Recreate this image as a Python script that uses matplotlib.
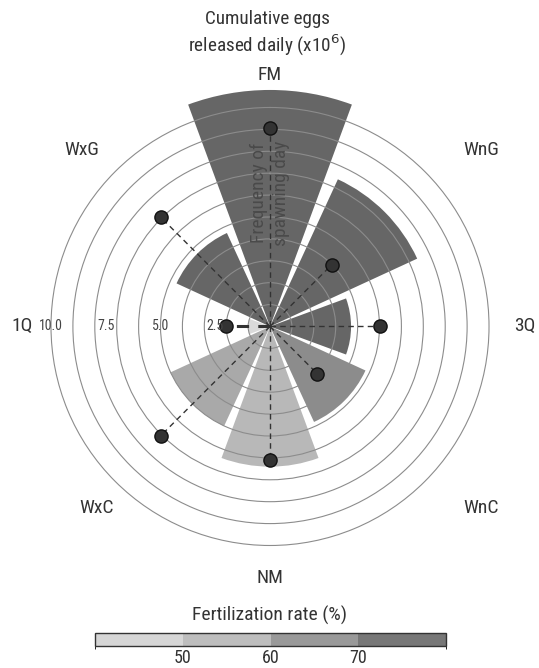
import numpy as np
import matplotlib
matplotlib.use('Agg')
import matplotlib.pyplot as plt
from matplotlib.colors import LinearSegmentedColormap, ListedColormap, BoundaryNorm, Normalize
from matplotlib.cm import ScalarMappable

plt.rcParams['font.family'] = ['Roboto Condensed', 'Liberation Sans Narrow', 'Roboto', 'DejaVu Sans']

# data
sites = ['FM', 'WnG', '3Q', 'WnC', 'NM', 'WxC', '1Q', 'WxG']
eggs = [10.8, 7.4, 3.7, 4.8, 6.4, 5.0, 1.0, 4.7]            # cumulative eggs released daily (x10^6)
spawn_freq = [9.05, 4.0, 5.0, 3.05, 6.1, 7.05, 2.0, 7.05]   # frequency of spawning day
fert_rate = [75.5, 75.5, 75.5, 65.4, 53.8, 57.7, 44.8, 75.5]
r_labels = [2.5, 5.0, 7.5, 10.0]
cbar_bounds = [40, 50, 60, 70, 80]
cbar_ticks = [50, 60, 70]

# styles / layout
wedge_cmap = LinearSegmentedColormap.from_list('greys', ['#ececec', '#555555'])
wedge_norm = Normalize(40, 80)
cbar_colors = ['#d6d6d6', '#bdbdbd', '#999999', '#777777']
line_widths = [1.0, 1.0, 1.0, 1.0, 1.0, 1.0, 2.2, 1.0]
label_pos = [(270, 75), (481, 150), (525, 326), (481, 508),
             (270, 578), (97, 508), (22, 326), (82, 150)]
W, H = 539, 668
txt = '#333333'

fig = plt.figure(figsize=(W / 100, H / 100), dpi=100)
ax = fig.add_axes([0.0540, 0.1506, 0.8939, 0.7213], projection='polar')
ax.set_theta_zero_location('N')
ax.set_theta_direction(-1)

theta = np.arange(len(sites)) * 2 * np.pi / len(sites)
width = 0.9 * 2 * np.pi / len(sites)

ax.bar(theta, eggs, width=width, color=wedge_cmap(wedge_norm(fert_rate)),
       linewidth=0, zorder=1)

for t, f, lw in zip(theta, spawn_freq, line_widths):
    ax.plot([t, t], [0, f], ls=(0, (4, 3)), color='#333333', lw=lw, zorder=3)
ax.plot(theta, spawn_freq, 'o', ms=9.5, mfc='#333333', mec='#111111', mew=1, zorder=4)

ax.set_ylim(0, 11)
ax.set_yticks(range(1, 11))
ax.set_yticklabels([])
ax.set_xticks([])
ax.yaxis.grid(True, color='#8c8c8c', lw=0.8)
ax.set_axisbelow(False)
ax.spines['polar'].set_visible(False)

for r in r_labels:
    ax.text(3 * np.pi / 2, r, f'{r:.1f}', ha='center', va='center',
            fontsize=10, color='#444444', zorder=5)

ax.text(0, 6.1, 'Frequency of\nspawning day', rotation=90, ha='center', va='center',
        fontsize=14, color='#4a4a4a', zorder=5, linespacing=1.25)

for name, (x, y) in zip(sites, label_pos):
    fig.text(x / W, 1 - y / H, name, ha='center', va='center', fontsize=14, color=txt)

fig.text(267 / W, 1 - 34 / H, 'Cumulative eggs\nreleased daily (x10$^6$)', ha='center',
         va='center', fontsize=13.8, color=txt, linespacing=1.25)

# colour bar
cax = fig.add_axes([95 / W, 22 / H, 351 / W, 13 / H])
sm = ScalarMappable(norm=BoundaryNorm(cbar_bounds, len(cbar_colors)),
                    cmap=ListedColormap(cbar_colors))
cb = fig.colorbar(sm, cax=cax, orientation='horizontal', ticks=cbar_ticks)
cb.outline.set_edgecolor('#333333')
cb.outline.set_linewidth(1)
cax.tick_params(length=0, labelsize=13, pad=2, colors=txt)
fig.text(270 / W, 1 - 615 / H, 'Fertilization rate (%)', ha='center', va='center',
         fontsize=14, color=txt)

fig.savefig('out.png', dpi=100)
